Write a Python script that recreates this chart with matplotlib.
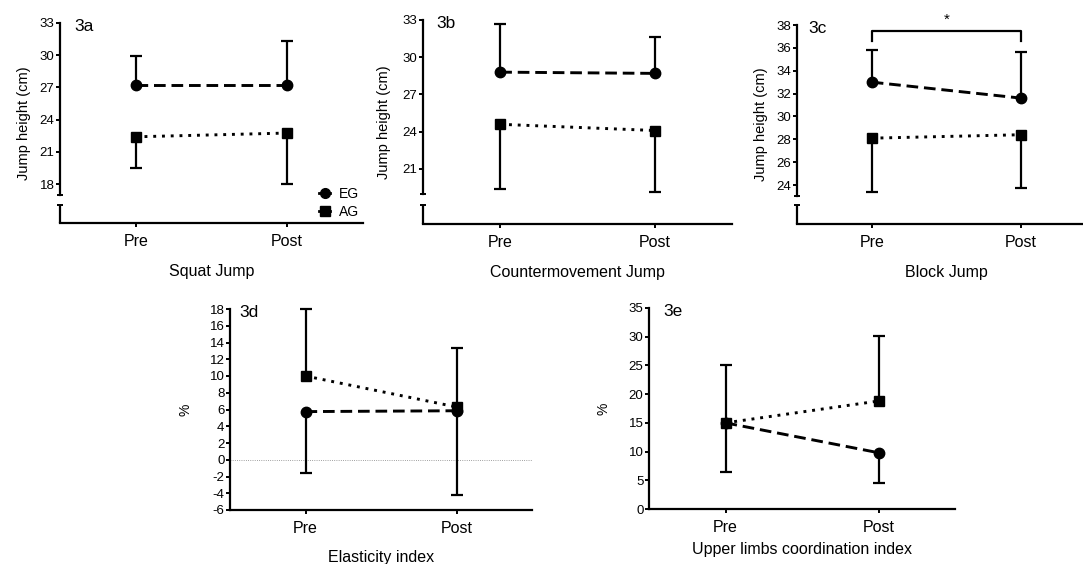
import numpy as np
import matplotlib
matplotlib.use('Agg')
import matplotlib.pyplot as plt
from matplotlib.lines import Line2D

plt.rcParams['font.family'] = ['Liberation Sans', 'DejaVu Sans']
plt.rcParams['axes.unicode_minus'] = False

W, H = 1083, 564
TIMES = ['Pre', 'Post']

# 3a Squat Jump (cm)
sj_eg_mean = [27.2, 27.2]
sj_eg_sd = [2.7, 4.1]
sj_ag_mean = [22.4, 22.75]
sj_ag_sd = [2.95, 4.75]

# 3b Countermovement Jump (cm)
cmj_eg_mean = [28.8, 28.7]
cmj_eg_sd = [3.85, 2.9]
cmj_ag_mean = [24.6, 24.1]
cmj_ag_sd = [5.2, 4.95]

# 3c Block Jump (cm)
bj_eg_mean = [33.0, 31.6]
bj_eg_sd = [2.85, 4.0]
bj_ag_mean = [28.1, 28.4]
bj_ag_sd = [4.7, 4.7]

# 3d Elasticity index (%)
ei_eg_mean = [5.75, 5.85]
ei_eg_sd = [7.35, 10.05]
ei_ag_mean = [10.0, 6.3]
ei_ag_sd = [8.0, 7.1]

# 3e Upper limbs coordination index (%)
ulc_eg_mean = [15.0, 9.8]
ulc_eg_sd = [8.5, 5.3]
ulc_ag_mean = [15.0, 18.8]
ulc_ag_sd = [10.0, 11.4]

LW = 1.6


def px_axes(fig, left, top, right, bottom):
    return fig.add_axes([left / W, 1 - bottom / H, (right - left) / W, (bottom - top) / H])


def draw_groups(ax, eg_mean, eg_sd, ag_mean, ag_sd, eg_up=True):
    x = np.arange(len(TIMES))
    zero = np.zeros(len(x))
    eg_err = [zero, eg_sd] if eg_up else [eg_sd, zero]
    ag_err = [ag_sd, zero] if eg_up else [zero, ag_sd]
    style = dict(color='k', ecolor='k', elinewidth=LW, capsize=4, capthick=LW, clip_on=False)
    e1 = ax.errorbar(x, eg_mean, yerr=eg_err, ls=(0, (4, 2)), lw=2.1, marker='o', ms=7.5,
                     zorder=3, **style)
    e1[1][0 if eg_up else 1].set_visible(False)
    e2 = ax.errorbar(x, ag_mean, yerr=ag_err, ls=(0, (1, 2)), lw=2.1, marker='s', ms=7,
                     zorder=4, **style)
    e2[1][1 if eg_up else 0].set_visible(False)


def style_axis(ax, ylim, yticks, tag, tag_x, xlabel, ylabel, xpad=12, ypad=8,
               ysize=10.5, upper=None, lower_top=None):
    ax.set_xlim(-0.5, 1.5)
    ax.set_ylim(ylim)
    ax.spines[['top', 'right']].set_visible(False)
    ax.spines['left'].set_linewidth(LW)
    ax.spines['bottom'].set_linewidth(LW)
    ax.set_xticks([0, 1], TIMES)
    ax.set_yticks(yticks)
    ax.tick_params(axis='y', length=3, width=1.4, labelsize=9.5, pad=1)
    ax.tick_params(axis='x', length=3, width=1.4, labelsize=11.5, pad=5)
    ax.set_xlabel(xlabel, fontsize=11.5, labelpad=xpad)
    ax.set_ylabel(ylabel, fontsize=ysize, labelpad=ypad)
    ax.text(tag_x, 1.02, tag, transform=ax.transAxes, va='top', ha='left', fontsize=12.5)
    if upper is not None:
        # broken y axis
        ax.spines['left'].set_bounds(upper, ylim[1])
        x0 = ax.get_xlim()[0]
        ax.plot([x0, x0], [ylim[0], lower_top], color='k', lw=LW, clip_on=False,
                solid_capstyle='butt')
        ax.plot([x0, x0], [upper, lower_top], ls='none', marker='_', ms=5, mew=1.4,
                color='k', clip_on=False)
    ax.patch.set_visible(False)


fig = plt.figure(figsize=(W / 100, H / 100), dpi=100)

# --- 3a ---
ax = px_axes(fig, 60, 23, 363, 223)
draw_groups(ax, sj_eg_mean, sj_eg_sd, sj_ag_mean, sj_ag_sd)
style_axis(ax, (14.37, 33), np.arange(18, 34, 3), '3a', 0.046, 'Squat Jump',
           'Jump height (cm)', xpad=11, ypad=6, upper=17, lower_top=16.04)
handles = [Line2D([0], [0], color='k', lw=2, marker='o', ms=7),
           Line2D([0], [0], color='k', lw=2, marker='s', ms=6.5)]
ax.legend(handles, ['EG', 'AG'], loc='lower left', bbox_to_anchor=(0.855, 0.02),
          frameon=False, fontsize=10, handlelength=0.8, handletextpad=0.6,
          labelspacing=0.3, borderpad=0, borderaxespad=0)

# --- 3b ---
ax = px_axes(fig, 423, 20, 732, 224)
draw_groups(ax, cmj_eg_mean, cmj_eg_sd, cmj_ag_mean, cmj_ag_sd)
style_axis(ax, (16.57, 33), np.arange(21, 34, 3), '3b', 0.044, 'Countermovement Jump',
           'Jump height (cm)', xpad=11, ypad=8, upper=19, lower_top=18.1)

# --- 3c ---
ax = px_axes(fig, 797, 25, 1096, 224)
draw_groups(ax, bj_eg_mean, bj_eg_sd, bj_ag_mean, bj_ag_sd)
style_axis(ax, (20.59, 38), np.arange(24, 39, 2), '3c', 0.037, 'Block Jump',
           'Jump height (cm)', xpad=11, ypad=6, upper=23, lower_top=22.25)
# significance bracket Pre vs Post (EG)
ax.plot([0, 0, 1, 1], [36.6, 37.5, 37.5, 36.6], color='k', lw=LW, clip_on=False)
ax.text(0.5, 38.5, '*', ha='center', va='center', fontsize=11)

# --- 3d ---
ax = px_axes(fig, 230, 309, 532, 510)
ax.axhline(0, color='0.5', lw=0.6, ls=':', zorder=1)
draw_groups(ax, ei_eg_mean, ei_eg_sd, ei_ag_mean, ei_ag_sd, eg_up=False)
style_axis(ax, (-6, 18), np.arange(-6, 19, 2), '3d', 0.03, 'Elasticity index', '%',
           xpad=10, ypad=12, ysize=10)

# --- 3e ---
ax = px_axes(fig, 649, 308, 955, 509)
draw_groups(ax, ulc_eg_mean, ulc_eg_sd, ulc_ag_mean, ulc_ag_sd, eg_up=False)
style_axis(ax, (0, 35), np.arange(0, 36, 5), '3e', 0.046,
           'Upper limbs coordination index', '%', xpad=5, ypad=13, ysize=10)

fig.savefig('out.png', dpi=100)
